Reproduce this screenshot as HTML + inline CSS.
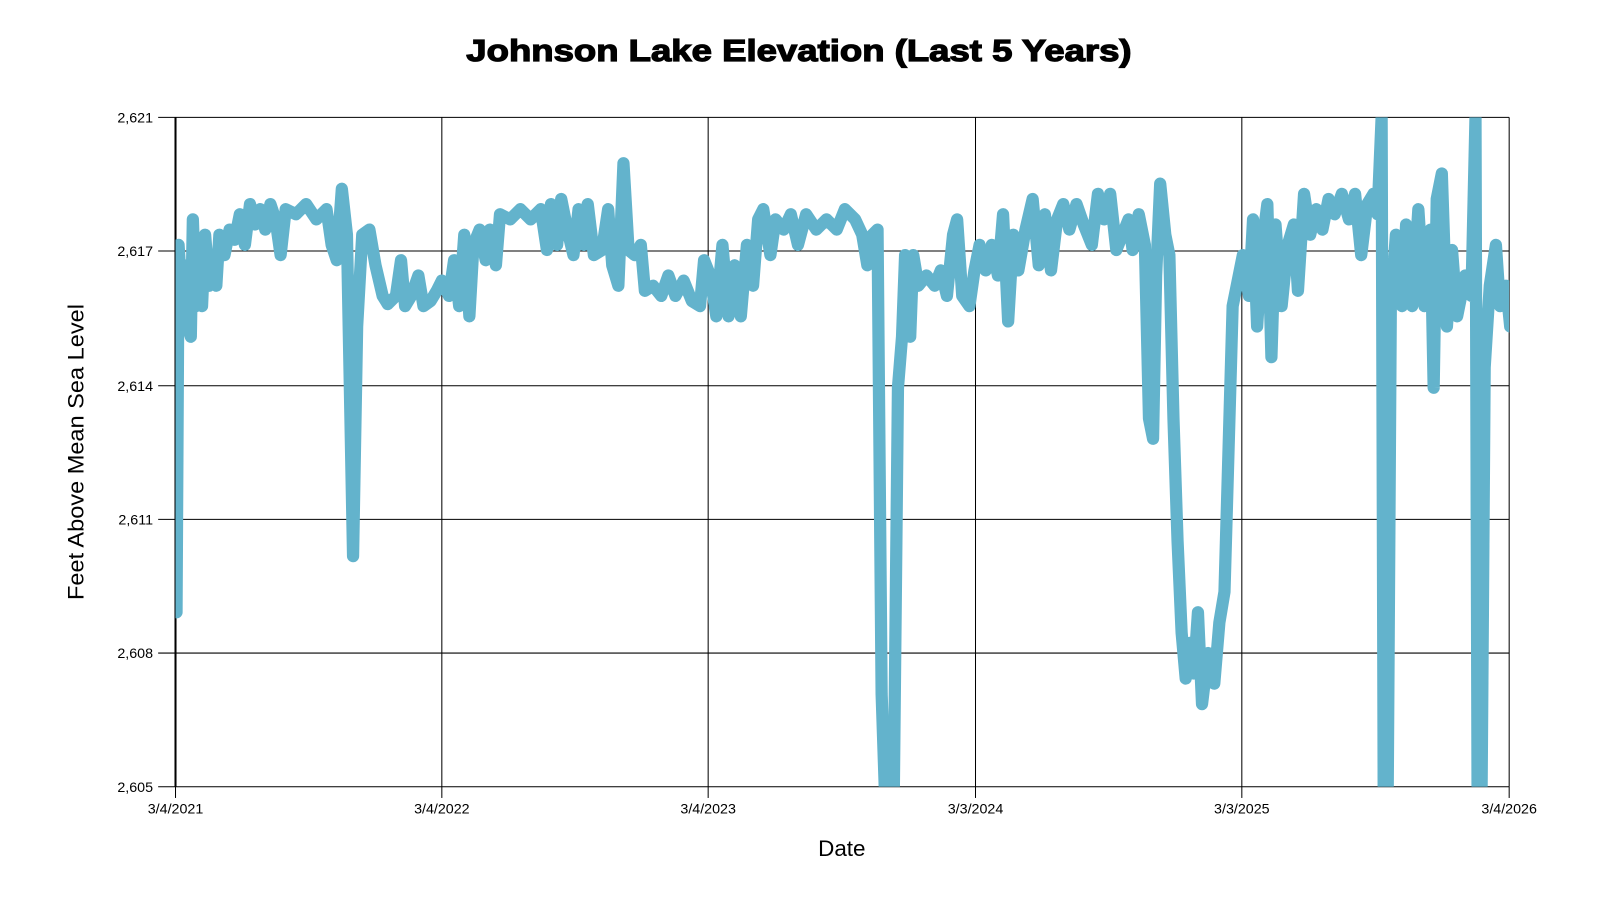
<!DOCTYPE html>
<html><head><meta charset="utf-8"><style>
body{margin:0;background:#fff;}
svg{display:block;font-family:"Liberation Sans",Arial,sans-serif;}
</style></head><body>
<svg width="1600" height="900" viewBox="0 0 1600 900">
<rect width="1600" height="900" fill="#fff"/>
<g transform="scale(1.0204)">
<text x="783" y="60" text-anchor="middle" font-size="30" font-weight="bold" fill="#000" stroke="#000" stroke-width="1.2" textLength="652" lengthAdjust="spacingAndGlyphs">Johnson Lake Elevation (Last 5 Years)</text>
<defs><clipPath id="c"><rect x="172" y="115" width="1307" height="656"/></clipPath></defs>
<g stroke="#000" stroke-width="1">
<line x1="172" y1="115" x2="1479" y2="115"/>
<line x1="172" y1="246" x2="1479" y2="246"/>
<line x1="172" y1="378" x2="1479" y2="378"/>
<line x1="172" y1="509" x2="1479" y2="509"/>
<line x1="172" y1="640" x2="1479" y2="640"/>
<line x1="172" y1="771" x2="1479" y2="771"/>
<line x1="172" y1="115" x2="172" y2="771" stroke-width="2"/>
<line x1="433" y1="115" x2="433" y2="771"/>
<line x1="694" y1="115" x2="694" y2="771"/>
<line x1="956" y1="115" x2="956" y2="771"/>
<line x1="1217" y1="115" x2="1217" y2="771"/>
<line x1="1479" y1="115" x2="1479" y2="771"/>
<line x1="155" y1="115" x2="172" y2="115"/><line x1="155" y1="246" x2="172" y2="246"/><line x1="155" y1="378" x2="172" y2="378"/><line x1="155" y1="509" x2="172" y2="509"/><line x1="155" y1="640" x2="172" y2="640"/><line x1="155" y1="771" x2="172" y2="771"/>
<line x1="172" y1="771" x2="172" y2="782"/><line x1="433" y1="771" x2="433" y2="782"/><line x1="694" y1="771" x2="694" y2="782"/><line x1="956" y1="771" x2="956" y2="782"/><line x1="1217" y1="771" x2="1217" y2="782"/><line x1="1479" y1="771" x2="1479" y2="782"/>
</g>
<g font-size="14" fill="#000" text-anchor="end">
<text x="150" y="120">2,621</text><text x="150" y="251">2,617</text><text x="150" y="383">2,614</text><text x="150" y="514">2,611</text><text x="150" y="645">2,608</text><text x="150" y="776">2,605</text>
</g>
<g font-size="14" fill="#000" text-anchor="middle">
<text x="172" y="797">3/4/2021</text><text x="433" y="797">3/4/2022</text><text x="694" y="797">3/4/2023</text><text x="956" y="797">3/3/2024</text><text x="1217" y="797">3/3/2025</text><text x="1479" y="797">3/4/2026</text>
</g>
<text x="825" y="839" text-anchor="middle" font-size="22">Date</text>
<text transform="translate(82,443) rotate(-90)" text-anchor="middle" font-size="22" textLength="290" lengthAdjust="spacingAndGlyphs">Feet Above Mean Sea Level</text>
<g clip-path="url(#c)">
<polyline fill="none" stroke="#63b3cc" stroke-width="12" stroke-linejoin="round" stroke-linecap="round" points="
173,600 175,240 178,290 181,260 184,320 187,330 189,215 192,300 195,240 198,300 201,230 205,280 208,250 212,280 215,230 220,250 225,225 230,235 235,210 240,240 245,200 250,220 255,205 260,225 265,200 270,215 275,250 280,205 290,210 300,200 310,215 320,205 325,240 330,255 335,185 340,230 346,545 350,320 355,230 362,225 368,260 375,290 380,298 388,290 393,255 397,300 403,290 410,270 415,300 422,295 428,285 433,275 440,290 445,255 450,300 455,230 460,310 464,240 470,225 476,255 480,225 486,260 490,210 500,215 510,205 520,215 530,205 536,245 540,200 546,240 550,195 556,225 562,250 567,205 572,240 576,200 582,250 590,245 596,205 600,260 606,280 611,160 616,245 622,250 628,240 632,285 640,280 648,290 655,270 662,290 670,275 678,295 686,300 690,255 696,270 702,310 708,240 714,310 720,260 726,310 732,240 738,280 743,215 748,205 755,250 760,215 768,225 775,210 782,240 790,210 800,225 810,215 820,225 828,205 838,215 845,230 850,260 855,230 860,225 864,680 867,770 872,770 876,770 880,380 884,330 887,250 892,330 895,250 900,280 908,270 916,280 922,265 928,290 934,230 938,215 943,290 950,300 955,265 960,240 966,265 972,240 978,270 983,210 988,315 993,230 998,265 1005,225 1012,195 1018,260 1024,210 1030,265 1036,215 1042,200 1048,225 1055,200 1062,220 1070,240 1076,190 1082,215 1088,190 1094,245 1100,230 1106,215 1110,245 1116,210 1122,240 1126,410 1130,430 1133,270 1137,180 1142,230 1146,250 1150,410 1154,530 1158,620 1162,665 1166,630 1170,660 1174,600 1178,690 1184,640 1190,670 1195,610 1200,580 1204,440 1208,300 1212,280 1218,250 1224,290 1228,215 1232,320 1237,240 1242,200 1246,350 1250,220 1256,300 1262,240 1268,220 1272,285 1278,190 1284,230 1290,205 1296,225 1302,195 1308,210 1315,190 1322,215 1328,190 1334,250 1340,200 1346,190 1350,210 1354,115 1356,770 1360,770 1363,300 1368,230 1374,300 1378,220 1384,300 1390,205 1396,300 1402,225 1405,380 1408,195 1413,170 1418,320 1423,245 1428,310 1436,270 1442,290 1446,115 1448,770 1452,770 1455,360 1460,280 1466,240 1470,300 1476,280 1480,320"/>
</g>
</g>
</svg>
</body></html>
